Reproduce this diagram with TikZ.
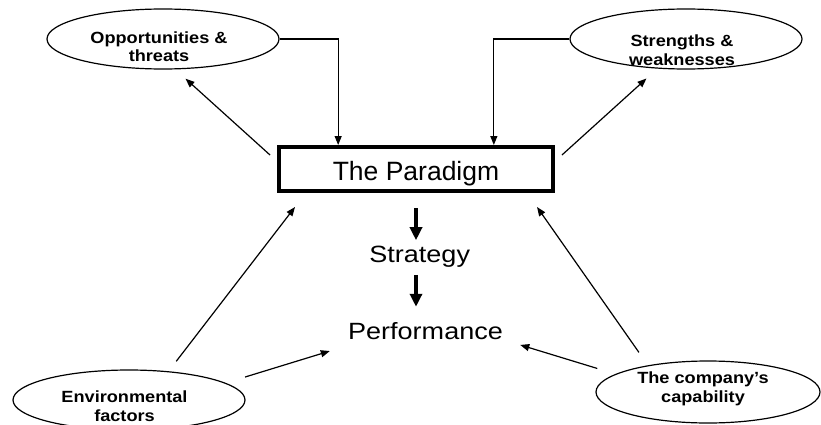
\documentclass[tikz,border=0pt]{standalone}
\usepackage{fontspec}
\setmainfont{Liberation Sans}
\newfontfamily\widefont[FakeStretch=1.15]{Liberation Sans}
\newfontfamily\factorfont[FakeStretch=1.12]{Liberation Sans}
\usepackage{tikz}
\usetikzlibrary{arrows.meta,shapes,positioning,calc}
\tikzstyle{arrow} = [line width=1.2pt,->,>={Triangle[length=9pt,width=7pt]}]
\tikzstyle{bigarrow} = [line width=4.5pt,-{Triangle[length=13pt,width=12pt]}]
\tikzstyle{factornode} = [ellipse, draw, line width=1.2pt, minimum width=232pt, minimum height=60pt, inner sep=0pt]
\tikzstyle{factortext} = [font=\factorfont\bfseries\fontsize{16.2}{18.8}\selectfont, align=center]
\tikzstyle{mainlabel} = [font=\widefont\fontsize{23.5}{28}\selectfont]
\tikzstyle{paradigmbox} = [draw, line width=4pt, minimum width=274pt, minimum height=44pt, font=\fontsize{26.5}{30}\selectfont, text height=22pt, text depth=0pt]

\begin{document}
\begin{tikzpicture}[x=1pt,y=-1pt]
\useasboundingbox (0,0) rectangle (821,425);

% Central box and the chain below it
\node[paradigmbox] (paradigm) at (416,169) {The Paradigm};
\node[mainlabel] (strategy) at (419.7,257.2) {Strategy};
\node[mainlabel] (performance) at (425.5,330.7) {Performance};
\draw[bigarrow, shorten <=15pt, shorten >=2.8pt] (paradigm.south) -- (paradigm.south |- strategy.north);
\draw[bigarrow, shorten <=3.5pt, shorten >=11.8pt] (strategy.south -| paradigm.south) -- (performance.north -| paradigm.south);

% Factor ellipses
\node[factornode] (opp) at (163,39) {};
\node[factortext] (opptext) at (159,46.8) {Opportunities \&\\threats};
\node[factornode] (str) at (686,39) {};
\node[factortext] (strtext) at (682,50.2) {Strengths \&\\weaknesses};
\node[factornode] (env) at (129,400) {};
\node[factortext] (envtext) at (124.5,406.5) {Environmental\\factors};
\node[factornode, minimum width=224pt, minimum height=62pt] (cap) at (708,392) {};
\node[factortext] (captext) at (703,388.5) {The company’s\\capability};

% Loops at the top
\draw[arrow] (opp.east) -| ($(paradigm.north west)!0.22!(paradigm.north east)$);
\draw[arrow] (str.west) -| ($(paradigm.north west)!0.78!(paradigm.north east)$);
\draw[arrow, shorten <=9.4pt, shorten >=13.8pt] ([yshift=7.7pt]paradigm.west) -- (opp.-68);
\draw[arrow, shorten <=9.4pt, shorten >=14.7pt] ([yshift=7.7pt]paradigm.east) -- (str.-134);

% Influences from below
\draw[arrow, shorten <=12.5pt, shorten >=17.7pt] (env.36) -- ([xshift=28.8pt]paradigm.south west);
\draw[arrow, shorten <=20.2pt, shorten >=15.5pt] (env.10) -- ([yshift=-15.8pt]performance.west);
\draw[arrow, shorten <=15.7pt, shorten >=17.1pt] (cap.156) -- ([xshift=-27.8pt]paradigm.south east);
\draw[arrow, shorten <=19pt, shorten >=14.5pt] (cap.169) -- ([yshift=-10pt]performance.east);
\end{tikzpicture}
\end{document}
